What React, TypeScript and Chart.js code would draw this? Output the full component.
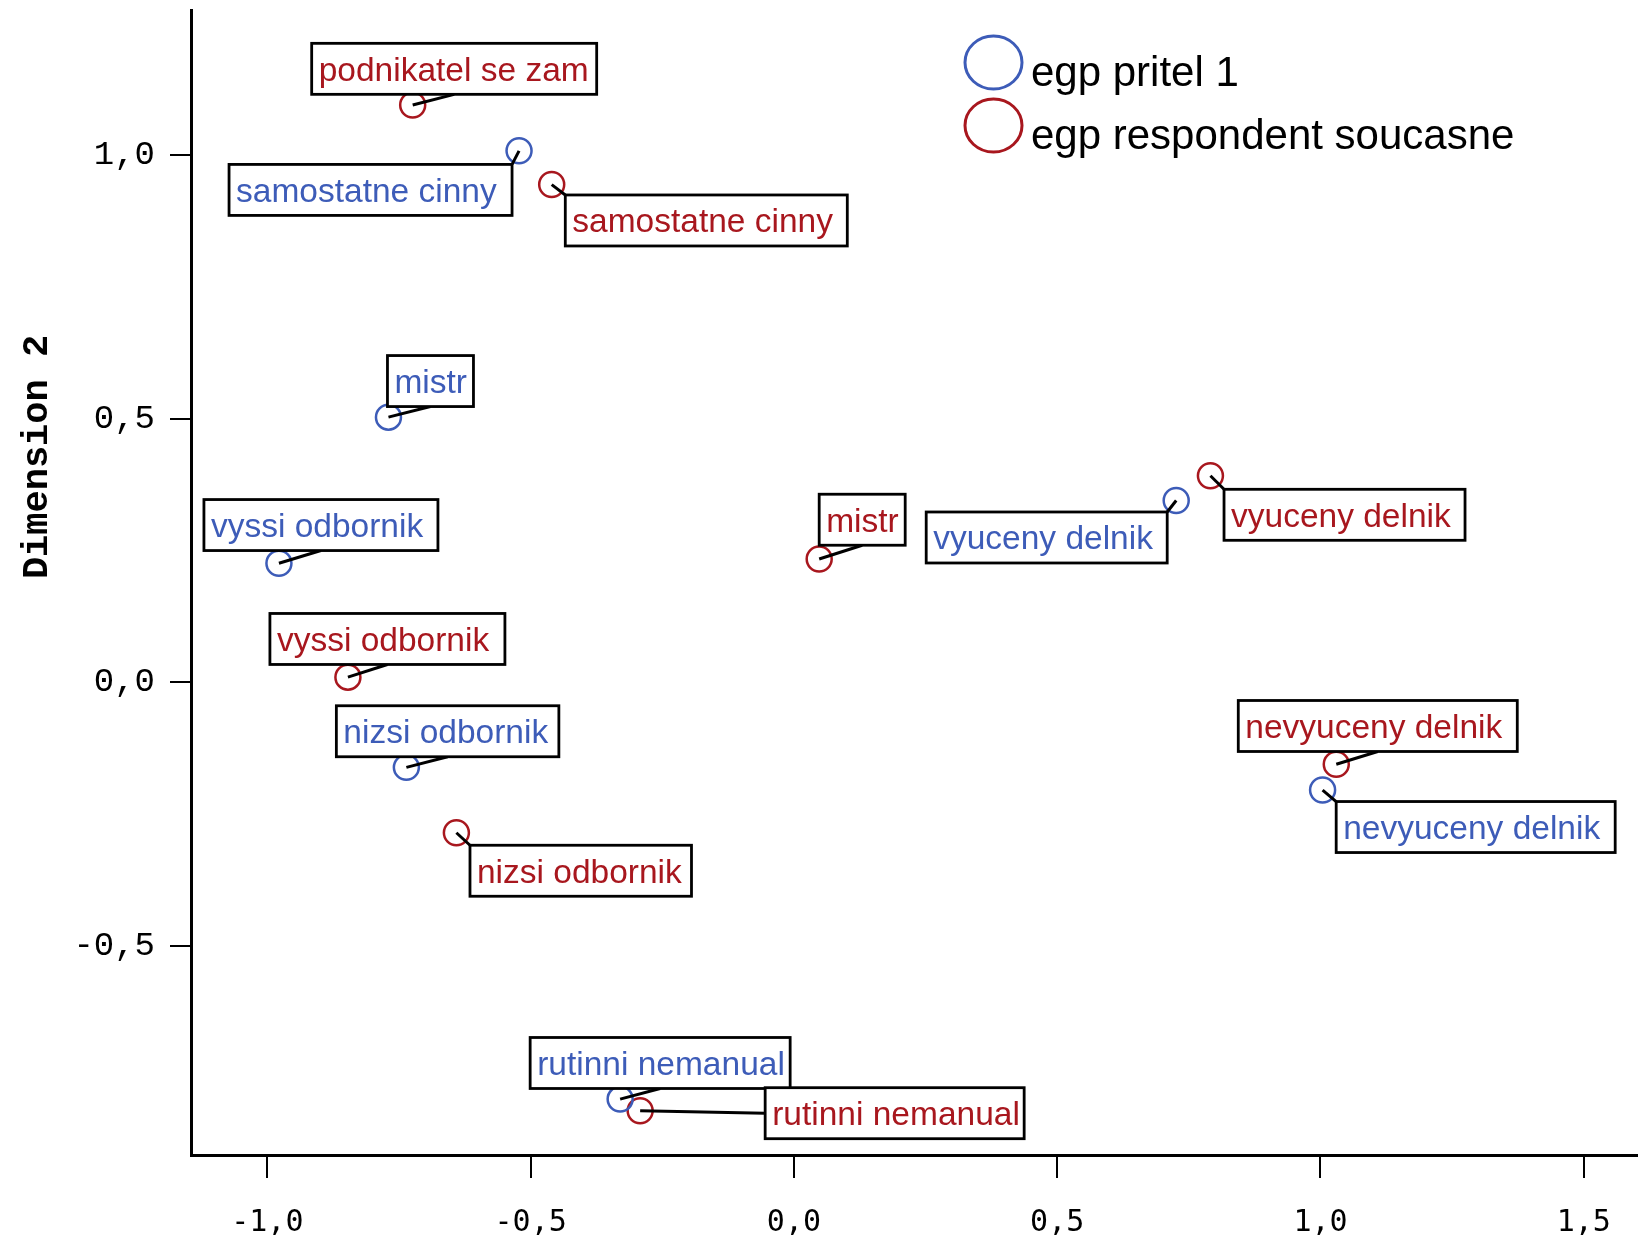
import React, { useEffect, useRef } from 'react';
import { Chart, registerables } from 'chart.js';

Chart.register(...registerables);

// ---------- data ----------
const seriesNames = ['egp pritel 1', 'egp respondent soucasne'];

const friendLabels = ['samostatne cinny', 'mistr', 'vyssi odbornik', 'nizsi odbornik', 'rutinni nemanual', 'vyuceny delnik', 'nevyuceny delnik'];
const friendX = [-0.522, -0.770, -0.978, -0.736, -0.330, 0.726, 1.004];
const friendY = [1.008, 0.503, 0.226, -0.161, -0.790, 0.345, -0.204];

const respLabels = ['podnikatel se zam', 'samostatne cinny', 'mistr', 'vyuceny delnik', 'vyssi odbornik', 'nizsi odbornik', 'nevyuceny delnik', 'rutinni nemanual'];
const respX = [-0.724, -0.460, 0.048, 0.791, -0.847, -0.641, 1.030, -0.292];
const respY = [1.095, 0.944, 0.234, 0.392, 0.010, -0.285, -0.155, -0.812];

const xTicks = [-1.0, -0.5, 0.0, 0.5, 1.0, 1.5];
const yTicks = [-0.5, 0.0, 0.5, 1.0];
const yAxisTitle = 'Dimension 2';

// ---------- layout / style (label boxes relative to point, px) ----------
type LabelBox = { dx: number; dy: number; w: number; anchor: 'bc' | 'tr' | 'tl' | 'lm' };
const friendBoxes: LabelBox[] = [
  { dx: -290, dy: 13.6, w: 283, anchor: 'tr' },
  { dx: -1, dy: -61.6, w: 86, anchor: 'bc' },
  { dx: -75, dy: -63.7, w: 234, anchor: 'bc' },
  { dx: -70, dy: -61.6, w: 222.5, anchor: 'bc' },
  { dx: -90, dy: -61.6, w: 260, anchor: 'bc' },
  { dx: -250, dy: 11.5, w: 241, anchor: 'tr' },
  { dx: 13.6, dy: 11.5, w: 279, anchor: 'tl' },
];
const respBoxes: LabelBox[] = [
  { dx: -101, dy: -61.6, w: 285, anchor: 'bc' },
  { dx: 13.6, dy: 10.4, w: 282, anchor: 'tl' },
  { dx: 0, dy: -64.8, w: 86, anchor: 'bc' },
  { dx: 13.6, dy: 13.6, w: 241, anchor: 'tl' },
  { dx: -78, dy: -63.7, w: 235, anchor: 'bc' },
  { dx: 13.6, dy: 12.5, w: 221.5, anchor: 'tl' },
  { dx: -98, dy: -63.7, w: 279, anchor: 'bc' },
  { dx: 125, dy: -23, w: 259, anchor: 'lm' },
];
const BOX_H = 51;
const BLUE = '#3d5cb8';
const RED = '#a8171e';

const fmt = (v: number) => v.toFixed(1).replace('.', ',');

const labelPlugin = {
  id: 'labelsAndLegend',
  afterDatasetsDraw(chart: any) {
    const ctx = chart.ctx as CanvasRenderingContext2D;
    const xs = chart.scales.x;
    const ys = chart.scales.y;
    const groups = [
      { X: friendX, Y: friendY, L: friendLabels, B: friendBoxes, color: BLUE },
      { X: respX, Y: respY, L: respLabels, B: respBoxes, color: RED },
    ];
    ctx.save();
    for (const g of groups) {
      for (let i = 0; i < g.X.length; i++) {
        const px = xs.getPixelForValue(g.X[i]);
        const py = ys.getPixelForValue(g.Y[i]);
        const b = g.B[i];
        const bx = px + b.dx;
        const by = py + b.dy;
        let ax = bx, ay = by;
        if (b.anchor === 'bc') { ax = bx + b.w / 2; ay = by + BOX_H; }
        else if (b.anchor === 'tr') { ax = bx + b.w; ay = by; }
        else if (b.anchor === 'tl') { ax = bx; ay = by; }
        else { ax = bx; ay = by + BOX_H / 2; }
        ctx.strokeStyle = '#000';
        ctx.lineWidth = 3;
        ctx.beginPath();
        ctx.moveTo(px, py);
        ctx.lineTo(ax, ay);
        ctx.stroke();
        ctx.fillStyle = '#fff';
        ctx.fillRect(bx, by, b.w, BOX_H);
        ctx.lineWidth = 2.8;
        ctx.strokeRect(bx, by, b.w, BOX_H);
        ctx.fillStyle = g.color;
        ctx.font = '33.5px "Liberation Sans", Arial, sans-serif';
        ctx.textAlign = 'left';
        ctx.textBaseline = 'alphabetic';
        ctx.fillText(g.L[i], bx + 7, by + 37.5);
      }
    }
    // legend
    const legendItems = [
      { name: seriesNames[0], color: BLUE, cy: 62.5 },
      { name: seriesNames[1], color: RED, cy: 125.5 },
    ];
    for (const it of legendItems) {
      ctx.strokeStyle = it.color;
      ctx.lineWidth = 3;
      ctx.beginPath();
      ctx.ellipse(993.5, it.cy, 28.5, 26.5, 0, 0, Math.PI * 2);
      ctx.stroke();
      ctx.fillStyle = '#000';
      ctx.font = '42px "Liberation Sans", Arial, sans-serif';
      ctx.textAlign = 'left';
      ctx.textBaseline = 'alphabetic';
      ctx.fillText(it.name, 1031, it.cy + 23);
    }
    // y axis title
    ctx.translate(38, 457);
    ctx.rotate(-Math.PI / 2);
    ctx.fillStyle = '#000';
    ctx.font = 'bold 37px "Liberation Mono", "Courier New", monospace';
    ctx.textAlign = 'center';
    ctx.textBaseline = 'middle';
    ctx.fillText(yAxisTitle, 0, 0);
    ctx.restore();
  },
};

const zeroPad = (s: any) => {
  s.paddingTop = 0;
  s.paddingBottom = 0;
  s.paddingLeft = 0;
  s.paddingRight = 0;
};

export default function App() {
  const ref = useRef<HTMLCanvasElement | null>(null);
  useEffect(() => {
    if (!ref.current) return;
    const chart = new Chart(ref.current, {
      type: 'scatter',
      data: {
        datasets: [
          {
            label: seriesNames[0],
            data: friendX.map((x, i) => ({ x, y: friendY[i] })),
            borderColor: BLUE,
            backgroundColor: 'rgba(0,0,0,0)',
            pointRadius: 12.5,
            pointHoverRadius: 12.5,
            pointBorderWidth: 2.5,
          },
          {
            label: seriesNames[1],
            data: respX.map((x, i) => ({ x, y: respY[i] })),
            borderColor: RED,
            backgroundColor: 'rgba(0,0,0,0)',
            pointRadius: 12.5,
            pointHoverRadius: 12.5,
            pointBorderWidth: 2.5,
          },
        ],
      },
      options: {
        responsive: false,
        maintainAspectRatio: false,
        animation: false,
        events: [],
        layout: { autoPadding: false, padding: { top: 10, left: 0, right: 0, bottom: 0 } },
        plugins: { legend: { display: false }, tooltip: { enabled: false } },
        scales: {
          x: {
            type: 'linear',
            min: -1.145,
            max: 1.603,
            afterBuildTicks: (s: any) => { s.ticks = xTicks.map((v) => ({ value: v })); },
            afterFit: (s: any) => { s.height = 82; zeroPad(s); },
            grid: { drawOnChartArea: false, drawTicks: true, tickLength: 23, color: '#000', lineWidth: 2 },
            border: { display: true, color: '#000', width: 3 },
            ticks: {
              callback: (v: any) => fmt(Number(v)),
              font: { family: '"DejaVu Sans Mono", monospace', size: 30 },
              color: '#000',
              padding: 27,
              maxRotation: 0,
              autoSkip: false,
            },
          },
          y: {
            type: 'linear',
            min: -0.896,
            max: 1.275,
            afterBuildTicks: (s: any) => { s.ticks = yTicks.map((v) => ({ value: v })); },
            afterFit: (s: any) => { s.width = 191; zeroPad(s); },
            grid: { drawOnChartArea: false, drawTicks: true, tickLength: 21, color: '#000', lineWidth: 2 },
            border: { display: true, color: '#000', width: 3 },
            ticks: {
              callback: (v: any) => fmt(Number(v)),
              font: { family: '"Liberation Mono", "Courier New", monospace', size: 34 },
              color: '#000',
              padding: 15,
              autoSkip: false,
            },
          },
        },
      },
      plugins: [labelPlugin],
    });
    return () => chart.destroy();
  }, []);
  return (
    <div style={{ position: 'absolute', left: 0, top: 0, width: 1638, height: 1237, background: '#fff' }}>
      <canvas ref={ref} width={1638} height={1237} style={{ width: 1638, height: 1237, display: 'block' }} />
    </div>
  );
}
